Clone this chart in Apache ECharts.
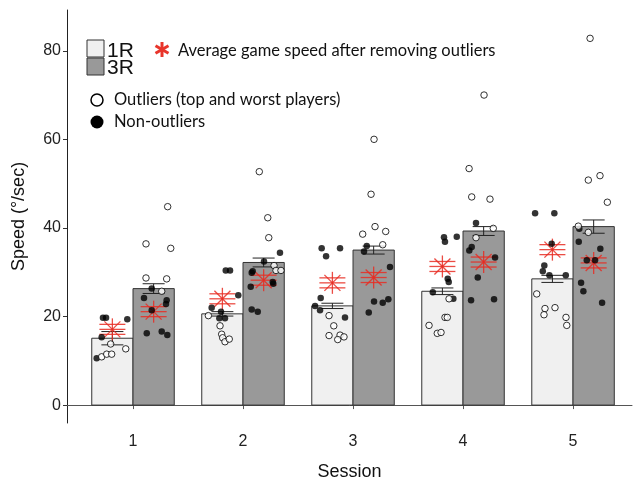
<!DOCTYPE html>
<html>
<head>
<meta charset="utf-8">
<script src="https://cdn.jsdelivr.net/npm/echarts@6/dist/echarts.min.js"></script>
<style>html,body{margin:0;padding:0;background:#fff;}#chart{width:633px;height:486px;}</style>
</head>
<body>
<div id="chart"></div>
<script>
// ---- data ----
const sessions = [1, 2, 3, 4, 5];
const xTickLabels = ['1', '2', '3', '4', '5'];
const yTickValues = [0, 20, 40, 60, 80];
const mean1R = [15.1, 20.6, 22.4, 25.7, 28.5];
const se1R = [1.5, 0.5, 0.6, 0.75, 0.8];
const mean3R = [26.3, 32.2, 35.0, 39.3, 40.3];
const se3R = [1.1, 1.0, 0.9, 1.0, 1.5];
const avgClean1R = [17.1, 24.0, 27.6, 31.3, 35.1];
const avgClean3R = [21.1, 28.2, 28.8, 32.3, 32.1];

// individual players: [session position incl. jitter, speed]
const nonOutliers1R = [
  [0.727, 19.7], [0.755, 19.7], [0.948, 19.4], [0.715, 15.3], [0.670, 10.6],
  [1.843, 30.4], [1.882, 30.4], [1.957, 24.8], [1.715, 22.0], [1.800, 21.1], [1.785, 19.6], [1.836, 19.6],
  [2.715, 35.4], [2.882, 35.4], [2.755, 33.6], [2.706, 24.2], [2.655, 22.4], [2.700, 21.4], [2.927, 19.8],
  [3.827, 37.9], [3.836, 36.9], [3.943, 38.0], [3.861, 28.5], [3.870, 27.8], [3.725, 25.5], [3.912, 24.0],
  [4.655, 43.3], [4.830, 43.3], [4.806, 36.4], [4.739, 31.5], [4.725, 30.2], [4.785, 29.3], [4.934, 29.3]
];
const outliers1R = [
  [0.797, 13.8], [0.934, 12.7], [0.715, 10.9], [0.761, 11.5], [0.806, 11.5],
  [1.685, 20.2], [1.791, 17.9], [1.806, 16.0], [1.815, 15.2], [1.836, 14.3], [1.875, 14.9],
  [2.782, 20.2], [2.825, 17.9], [2.782, 15.7], [2.882, 15.8], [2.918, 15.4], [2.861, 14.8],
  [3.873, 24.0], [3.836, 19.8], [3.857, 19.8], [3.691, 18.0], [3.766, 16.2], [3.800, 16.4],
  [4.670, 25.1], [4.745, 21.8], [4.736, 20.4], [4.836, 22.0], [4.936, 19.8], [4.943, 18.0]
];
const nonOutliers3R = [
  [1.170, 26.3], [1.100, 24.2], [1.306, 23.7], [1.300, 22.8], [1.170, 21.4], [1.125, 16.2], [1.261, 16.6], [1.312, 15.8],
  [2.336, 34.4], [2.191, 32.4], [2.088, 30.2], [2.079, 29.9], [2.270, 27.8], [2.275, 27.4], [2.070, 26.7], [2.079, 21.6], [2.134, 21.1],
  [3.125, 35.9], [3.100, 34.7], [3.336, 31.2], [3.191, 23.4], [3.270, 23.1], [3.321, 23.9], [3.143, 20.9],
  [4.118, 41.1], [4.079, 35.7], [4.057, 34.9], [4.291, 33.3], [4.134, 28.8], [4.073, 23.7], [4.282, 23.9],
  [5.057, 39.8], [5.052, 36.9], [5.248, 35.3], [5.125, 32.7], [5.200, 32.7], [5.073, 27.6], [5.094, 25.7], [5.264, 23.1]
];
const outliers3R = [
  [1.315, 44.8], [1.118, 36.4], [1.343, 35.4], [1.118, 28.7], [1.306, 28.5], [1.261, 25.7],
  [2.148, 52.7], [2.225, 42.3], [2.234, 37.8], [2.282, 31.5], [2.300, 30.4], [2.345, 30.4],
  [3.191, 60.0], [3.164, 47.6], [3.200, 40.3], [3.088, 38.6], [3.297, 39.2], [3.270, 36.2],
  [4.191, 70.0], [4.055, 53.4], [4.079, 47.0], [4.245, 46.5], [4.275, 39.9], [4.118, 37.8],
  [5.155, 82.8], [5.139, 50.8], [5.245, 51.8], [5.312, 45.8], [5.048, 40.4], [5.139, 39.0]
];

// ---- styling / layout ----
const BAR_W = 0.375;      // bar width in session units
const CAP_HW = 0.1;       // error-bar cap half width
const RED = 'rgba(232,45,35,0.85)';
const LEGEND_FONT = 'Lato';

function barSeries(name, means, ses, offsetSign, fill) {
  return {
    type: 'custom', name: name, z: 2,
    data: sessions.map((s, i) => [s, means[i], ses[i]]),
    renderItem: function (params, api) {
      const s = api.value(0), m = api.value(1), e = api.value(2);
      const x0 = offsetSign < 0 ? s - BAR_W : s;
      const x1 = offsetSign < 0 ? s : s + BAR_W;
      const xc = (x0 + x1) / 2;
      const pTL = api.coord([x0, m]);
      const pBR = api.coord([x1, 0]);
      const pHi = api.coord([xc, m + e]);
      const pLo = api.coord([xc, m - e]);
      const capL = api.coord([xc - CAP_HW, 0])[0];
      const capR = api.coord([xc + CAP_HW, 0])[0];
      return {
        type: 'group',
        children: [
          { type: 'rect', shape: { x: pTL[0], y: pTL[1], width: pBR[0] - pTL[0], height: pBR[1] - pTL[1] },
            style: { fill: fill, stroke: '#333', lineWidth: 1 } },
          { type: 'line', shape: { x1: pHi[0], y1: pHi[1], x2: pLo[0], y2: pLo[1] }, style: { stroke: '#222', lineWidth: 1 } },
          { type: 'line', shape: { x1: capL, y1: pHi[1], x2: capR, y2: pHi[1] }, style: { stroke: '#222', lineWidth: 1 } },
          { type: 'line', shape: { x1: capL, y1: pLo[1], x2: capR, y2: pLo[1] }, style: { stroke: '#222', lineWidth: 1 } }
        ]
      };
    }
  };
}

function starSeries(name, vals, offsetSign) {
  return {
    type: 'custom', name: name, z: 3,
    data: sessions.map((s, i) => [s + offsetSign * BAR_W / 2, vals[i]]),
    renderItem: function (params, api) {
      const p = api.coord([api.value(0), api.value(1)]);
      const x = p[0], y = p[1];
      const st = { stroke: RED, lineWidth: 1.3 };
      const L = (a, b, c, d) => ({ type: 'line', shape: { x1: a, y1: b, x2: c, y2: d }, style: st });
      return {
        type: 'group',
        children: [
          L(x, y - 11, x, y + 11),
          L(x - 8, y - 8, x + 8, y + 8),
          L(x - 8, y + 8, x + 8, y - 8),
          L(x - 13, y, x + 13, y),
          L(x - 13, y - 5, x + 13, y - 5),
          L(x - 13, y + 5, x + 13, y + 5)
        ]
      };
    }
  };
}

const chart = echarts.init(document.getElementById('chart'), null, { renderer: 'canvas' });
const option = {
  animation: false,
  backgroundColor: '#fff',
  grid: { left: 67, right: 1, top: 10, bottom: 61, containLabel: false },
  xAxis: {
    type: 'value', min: 0.4, max: 5.536,
    name: 'Session', nameLocation: 'middle', nameGap: 40,
    nameTextStyle: { fontFamily: 'Liberation Sans', fontSize: 18, color: '#111' },
    axisLine: { show: true, lineStyle: { color: '#555', width: 1 } },
    axisTick: { show: true, length: 4, customValues: sessions, lineStyle: { color: '#555' } },
    axisLabel: { customValues: sessions, margin: 11, fontFamily: 'Liberation Sans', fontSize: 16, color: '#222',
      formatter: v => xTickLabels[sessions.indexOf(Math.round(v))] },
    splitLine: { show: false }
  },
  yAxis: {
    type: 'value', min: -4.04, max: 89.2,
    name: 'Speed (°/sec)', nameLocation: 'middle', nameGap: 39, nameRotate: 90,
    nameTextStyle: { fontFamily: 'Liberation Sans', fontSize: 18, color: '#111' },
    axisLine: { show: true, lineStyle: { color: '#222', width: 1 } },
    axisTick: { show: true, length: 4, customValues: yTickValues, lineStyle: { color: '#333' } },
    axisLabel: { customValues: yTickValues, margin: 6, fontFamily: 'Liberation Sans', fontSize: 16, color: '#222' },
    splitLine: { show: false }
  },
  series: [
    barSeries('1R', mean1R, se1R, -1, '#f0f0f0'),
    barSeries('3R', mean3R, se3R, 1, '#999999'),
    starSeries('Average 1R', avgClean1R, -1),
    starSeries('Average 3R', avgClean3R, 1),
    { type: 'scatter', name: 'Non-outliers 1R', z: 4, data: nonOutliers1R, symbolSize: 6.5,
      itemStyle: { color: '#000' } },
    { type: 'scatter', name: 'Non-outliers 3R', z: 4, data: nonOutliers3R, symbolSize: 6.5,
      itemStyle: { color: '#000' } },
    { type: 'scatter', name: 'Outliers 1R', z: 4, data: outliers1R, symbolSize: 6.5,
      itemStyle: { color: '#fff', borderColor: '#000', borderWidth: 1 } },
    { type: 'scatter', name: 'Outliers 3R', z: 4, data: outliers3R, symbolSize: 6.5,
      itemStyle: { color: '#fff', borderColor: '#000', borderWidth: 1 } }
  ],
  graphic: [
    { type: 'rect', shape: { x: 87, y: 40, width: 17, height: 17 }, style: { fill: '#f0f0f0', stroke: '#333', lineWidth: 1 } },
    { type: 'rect', shape: { x: 87, y: 58, width: 17, height: 17 }, style: { fill: '#999999', stroke: '#333', lineWidth: 1 } },
    { type: 'text', x: 107, y: 51, style: { text: '1R', fontFamily: 'Liberation Sans', fontSize: 21, fill: '#111', textVerticalAlign: 'middle' } },
    { type: 'text', x: 107, y: 68, style: { text: '3R', fontFamily: 'Liberation Sans', fontSize: 21, fill: '#111', textVerticalAlign: 'middle' } },
    { type: 'line', shape: { x1: 162, y1: 42, x2: 162, y2: 57 }, style: { stroke: '#e8352b', lineWidth: 3 } },
    { type: 'line', shape: { x1: 155.5, y1: 45.7, x2: 168.5, y2: 53.3 }, style: { stroke: '#e8352b', lineWidth: 3 } },
    { type: 'line', shape: { x1: 155.5, y1: 53.3, x2: 168.5, y2: 45.7 }, style: { stroke: '#e8352b', lineWidth: 3 } },
    { type: 'text', x: 178, y: 51, style: { text: 'Average game speed after removing outliers', fontFamily: LEGEND_FONT, fontSize: 16.5, fill: '#111', textVerticalAlign: 'middle' } },
    { type: 'circle', shape: { cx: 97, cy: 100, r: 6 }, style: { fill: '#fff', stroke: '#000', lineWidth: 1.5 } },
    { type: 'text', x: 114, y: 100, style: { text: 'Outliers (top and worst players)', fontFamily: LEGEND_FONT, fontSize: 16.5, fill: '#111', textVerticalAlign: 'middle' } },
    { type: 'circle', shape: { cx: 97, cy: 122, r: 6.5 }, style: { fill: '#000' } },
    { type: 'text', x: 114, y: 122, style: { text: 'Non-outliers', fontFamily: LEGEND_FONT, fontSize: 16.5, fill: '#111', textVerticalAlign: 'middle' } }
  ]
};
chart.setOption(option);
</script>
</body>
</html>
